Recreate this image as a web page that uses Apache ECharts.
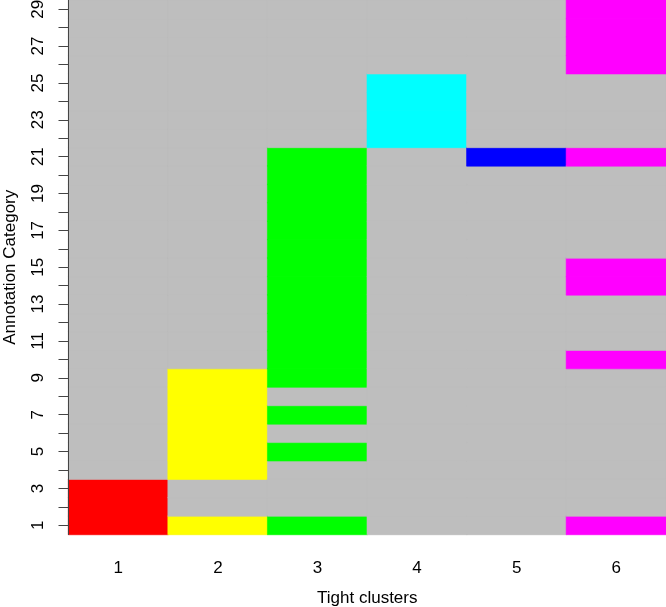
<!DOCTYPE html>
<html><head><meta charset="utf-8">
<script src="https://cdn.jsdelivr.net/npm/echarts@6/dist/echarts.min.js"></script>
<style>html,body{margin:0;padding:0;background:#fff}#c{width:666px;height:607px}</style>
</head><body><div id="c"></div>
<script>
const clusters = ['1','2','3','4','5','6'];
const categories = ['1','2','3','4','5','6','7','8','9','10','11','12','13','14','15','16','17','18','19','20','21','22','23','24','25','26','27','28','29'];
const clusterColors = ['#FF0000','#FFFF00','#00FF00','#00FFFF','#0000FF','#FF00FF'];
const backgroundColor = '#BEBEBE';
// annotation categories marked for each tight cluster
const cluster1Rows = [1,2,3];
const cluster2Rows = [1,4,5,6,7,8,9];
const cluster3Rows = [1,5,7,9,10,11,12,13,14,15,16,17,18,19,20,21];
const cluster4Rows = [22,23,24,25];
const cluster5Rows = [21];
const cluster6Rows = [1,10,14,15,21,26,27,28,29];

const rowsByCluster = [cluster1Rows,cluster2Rows,cluster3Rows,cluster4Rows,cluster5Rows,cluster6Rows];
const data = [];
clusters.forEach((c, xi) => {
  categories.forEach((cat, yi) => {
    const on = rowsByCluster[xi].indexOf(Number(cat)) >= 0;
    const col = on ? clusterColors[xi] : backgroundColor;
    data.push({value: [xi, yi, on ? xi + 1 : 0], itemStyle: {color: col, borderColor: col, borderWidth: 0.6}});
  });
});

const chart = echarts.init(document.getElementById('c'));
const font = 'Liberation Sans, Arial, Helvetica, sans-serif';
chart.setOption({
  animation: false,
  grid: {left: 68.5, right: 0, top: 0, bottom: 72.5, containLabel: false, outerBoundsMode: 'none',
         show: true, backgroundColor: backgroundColor, borderWidth: 0},
  xAxis: {
    type: 'category', data: clusters,
    axisLine: {show: false}, axisTick: {show: false}, splitLine: {show: false},
    axisLabel: {fontFamily: font, fontSize: 17, color: '#000', margin: 25},
    name: 'Tight clusters', nameLocation: 'middle', nameGap: 55,
    nameTextStyle: {fontFamily: font, fontSize: 17, color: '#000'}
  },
  yAxis: {
    type: 'category', data: categories, z: 5,
    axisLine: {show: true, lineStyle: {color: '#444', width: 1}},
    axisTick: {show: true, alignWithLabel: true, length: 10, interval: 0, lineStyle: {color: '#444'}},
    axisLabel: {interval: 1, rotate: 90, fontFamily: font, fontSize: 17, color: '#000', margin: 22},
    splitLine: {show: false},
    name: 'Annotation Category', nameLocation: 'middle', nameGap: 50,
    nameTextStyle: {fontFamily: font, fontSize: 17, color: '#000'}
  },
  series: [{type: 'heatmap', data: data, emphasis: {disabled: true}}]
});
</script></body></html>
